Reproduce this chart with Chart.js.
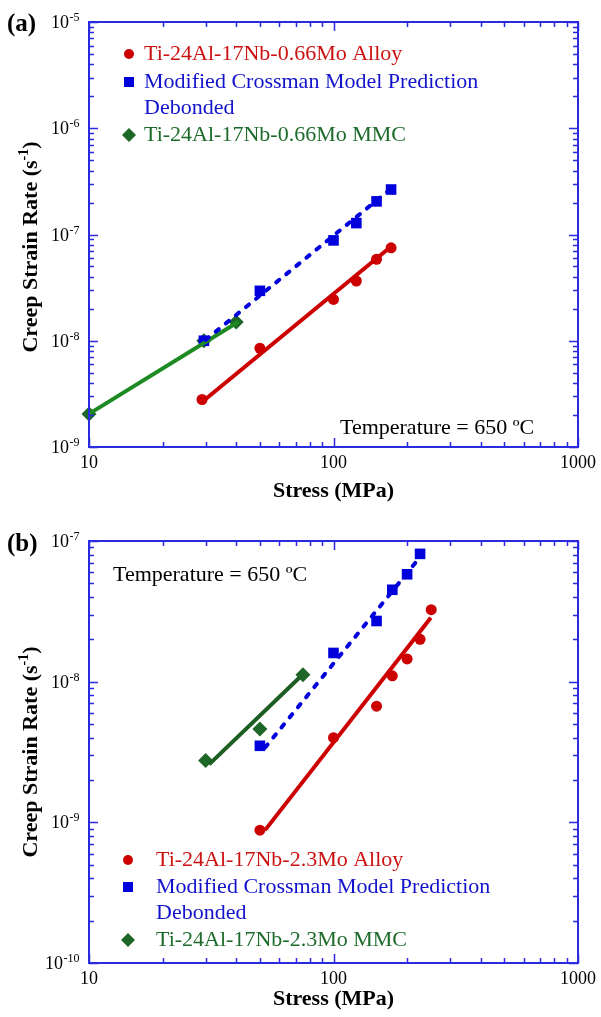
<!DOCTYPE html>
<html>
<head>
<meta charset="utf-8">
<script src="https://cdn.jsdelivr.net/npm/chart.js@4/dist/chart.umd.min.js"></script>
<style>
  html, body { margin: 0; padding: 0; background: #fff; }
  canvas { display: block; }
</style>
</head>
<body>
<canvas id="panelA" width="601" height="505"></canvas>
<canvas id="panelB" width="601" height="512"></canvas>
<script>
// ---- panel (a) data, 0.66Mo ----
const aAlloyStress = [29, 50, 100, 124, 150, 172];
const aAlloyRate = [2.8e-9, 8.5e-9, 2.45e-8, 3.65e-8, 5.85e-8, 7.5e-8];
const aModelStress = [29.5, 50, 100, 124, 150, 172];
const aModelRate = [1.0e-8, 2.95e-8, 8.8e-8, 1.28e-7, 2.05e-7, 2.65e-7];
const aMmcStress = [10, 29.5, 40];
const aMmcRate = [2.05e-9, 1.0e-8, 1.5e-8];
// fitted lines
const aAlloyFitStress = [29, 172];
const aAlloyFitRate = [2.65e-9, 7.7e-8];
const aModelFitStress = [30, 172];
const aModelFitRate = [1.02e-8, 2.7e-7];
const aMmcFitStress = [10, 41];
const aMmcFitRate = [2.05e-9, 1.52e-8];

// ---- panel (b) data, 2.3Mo ----
const bAlloyStress = [50, 100, 150, 174, 200, 226, 251];
const bAlloyRate = [8.8e-10, 4.0e-9, 6.7e-9, 1.1e-8, 1.45e-8, 2.0e-8, 3.25e-8];
const bModelStress = [50, 100, 150, 174, 200, 226];
const bModelRate = [3.5e-9, 1.6e-8, 2.7e-8, 4.5e-8, 5.8e-8, 8.1e-8];
const bMmcStress = [30, 50, 75];
const bMmcRate = [2.75e-9, 4.6e-9, 1.12e-8];
const bAlloyFitStress = [52.5, 250];
const bAlloyFitRate = [8.8e-10, 2.85e-8];
const bModelFitStress = [52.5, 222];
const bModelFitRate = [3.4e-9, 7.4e-8];
const bMmcFitStress = [31, 73];
const bMmcFitRate = [2.58e-9, 1.08e-8];

// axis ticks
const stressTicks = [10, 100, 1000];
const aRateTicks = [1e-9, 1e-8, 1e-7, 1e-6, 1e-5];
const bRateTicks = [1e-10, 1e-9, 1e-8, 1e-7];

const SERIF = "'Liberation Serif', 'Times New Roman', Times, serif";
const RED = '#cc0000';
const BLUE = '#0000dd';
const GREEN_PT = '#1d6627';
const AXIS_BLUE = '#2a2ade';

function zip(xs, ys) {
  return xs.map((x, i) => ({x: x, y: ys[i]}));
}

function decadeMarks(min, max) {
  const out = [];
  for (let e = Math.floor(Math.log10(min)); e <= Math.ceil(Math.log10(max)); e++) {
    for (let k = 1; k <= 9; k++) {
      const v = k * Math.pow(10, e);
      if (v >= min * 0.999 && v <= max * 1.001) out.push({v: v, major: k === 1});
    }
  }
  return out;
}

// frame with inward ticks on all four sides
const frameTicks = {
  id: 'frameTicks',
  afterDatasetsDraw(chart) {
    const {ctx, chartArea: a, scales: {x, y}} = chart;
    ctx.save();
    ctx.strokeStyle = AXIS_BLUE;
    ctx.lineWidth = 1.5;
    ctx.beginPath();
    decadeMarks(x.min, x.max).forEach(m => {
      const px = Math.round(x.getPixelForValue(m.v)) + 0.5;
      const len = m.major ? 9 : 5;
      ctx.moveTo(px, a.bottom); ctx.lineTo(px, a.bottom - len);
      ctx.moveTo(px, a.top); ctx.lineTo(px, a.top + len);
    });
    decadeMarks(y.min, y.max).forEach(m => {
      const py = Math.round(y.getPixelForValue(m.v)) + 0.5;
      const len = m.major ? 9 : 5;
      ctx.moveTo(a.left, py); ctx.lineTo(a.left + len, py);
      ctx.moveTo(a.right, py); ctx.lineTo(a.right - len, py);
    });
    ctx.stroke();
    ctx.lineWidth = 2;
    ctx.strokeRect(a.left, a.top, a.right - a.left, a.bottom - a.top);
    ctx.restore();
  }
};

// power-of-ten labels and y title with real superscripts
const powerLabels = {
  id: 'powerLabels',
  afterDraw(chart) {
    const {ctx, scales: {y}} = chart;
    ctx.save();
    ctx.fillStyle = '#000';
    ctx.textBaseline = 'alphabetic';
    ctx.textAlign = 'left';
    y.ticks.forEach(t => {
      const py = y.getPixelForValue(t.value);
      const exp = '-' + String(-Math.round(Math.log10(t.value)));
      ctx.font = '18px ' + SERIF;
      const w10 = ctx.measureText('10').width;
      ctx.font = '12px ' + SERIF;
      const we = ctx.measureText(exp).width;
      const x0 = 79 - w10 - we;
      ctx.font = '18px ' + SERIF;
      ctx.fillText('10', x0, py + 6);
      ctx.font = '12px ' + SERIF;
      ctx.fillText(exp, x0 + w10 + 0.5, py - 1);
    });
    // rotated axis title
    const main = 'Creep Strain Rate (s';
    const sup = '-1';
    const tail = ')';
    ctx.translate(29, 247);
    ctx.rotate(-Math.PI / 2);
    ctx.font = 'bold 22px ' + SERIF;
    const wm = ctx.measureText(main).width;
    const wt = ctx.measureText(tail).width;
    ctx.font = 'bold 14px ' + SERIF;
    const ws = ctx.measureText(sup).width;
    let cx = -(wm + ws + wt) / 2;
    ctx.font = 'bold 22px ' + SERIF;
    ctx.fillText(main, cx, 8);
    cx += wm;
    ctx.font = 'bold 14px ' + SERIF;
    ctx.fillText(sup, cx, -1);
    cx += ws;
    ctx.font = 'bold 22px ' + SERIF;
    ctx.fillText(tail, cx, 8);
    ctx.restore();
  }
};

function drawMarker(ctx, style, x, y, color) {
  ctx.fillStyle = color;
  ctx.beginPath();
  if (style === 'circle') {
    ctx.arc(x, y, 5, 0, Math.PI * 2);
  } else if (style === 'rect') {
    ctx.rect(x - 5, y - 5, 10, 10);
  } else {
    ctx.moveTo(x - 7, y); ctx.lineTo(x, y - 7); ctx.lineTo(x + 7, y); ctx.lineTo(x, y + 7);
    ctx.closePath();
  }
  ctx.fill();
}

// legend, panel letter and temperature note
function notesPlugin(n) {
  return {
    id: 'notes',
    afterDraw(chart) {
      const ctx = chart.ctx;
      ctx.save();
      ctx.textBaseline = 'middle';
      ctx.textAlign = 'left';
      ctx.fillStyle = '#000';
      ctx.font = 'bold 25px ' + SERIF;
      ctx.fillText(n.letter, 7, n.letterY);
      ctx.font = '22px ' + SERIF;
      ctx.fillText('Temperature = 650 \u00BAC', n.tempX, n.tempY);
      n.rows.forEach(r => {
        if (r.marker) drawMarker(ctx, r.marker, n.markX, r.y, r.mColor);
        ctx.fillStyle = r.color;
        ctx.fillText(r.text, n.textX, r.y);
      });
      ctx.restore();
    }
  };
}

function makeChart(id, d) {
  const canvasH = d.height;
  return new Chart(document.getElementById(id), {
    type: 'scatter',
    data: {
      datasets: [
        {label: d.alloyName, data: zip(d.alloyX, d.alloyY), pointStyle: 'circle', pointRadius: 5.5,
          backgroundColor: RED, borderColor: RED, borderWidth: 0, clip: false, order: 2},
        {label: 'Modified Crossman Model Prediction Debonded', data: zip(d.modelX, d.modelY), pointStyle: 'rect', pointRadius: 7.5,
          backgroundColor: BLUE, borderColor: BLUE, borderWidth: 0, clip: false, order: 2},
        {label: d.mmcName, data: zip(d.mmcX, d.mmcY), pointStyle: 'rectRot', pointRadius: 7.5,
          backgroundColor: GREEN_PT, borderColor: GREEN_PT, borderWidth: 0, clip: false, order: 2},
        {label: 'alloy fit', data: zip(d.alloyFitX, d.alloyFitY), showLine: true, pointRadius: 0,
          borderColor: RED, borderWidth: 4, clip: false, order: 1},
        {label: 'model fit', data: zip(d.modelFitX, d.modelFitY), showLine: true, pointRadius: 0,
          borderColor: BLUE, borderWidth: 4, borderDash: [4, 9], borderCapStyle: 'round', clip: false, order: 1},
        {label: 'mmc fit', data: zip(d.mmcFitX, d.mmcFitY), showLine: true, pointRadius: 0,
          borderColor: d.mmcLine, borderWidth: 4, clip: false, order: 1}
      ]
    },
    options: {
      responsive: false,
      animation: false,
      devicePixelRatio: 1,
      layout: {padding: {top: d.plotTop, right: 22, left: 0, bottom: 0}},
      plugins: {legend: {display: false}, tooltip: {enabled: false}},
      scales: {
        x: {
          type: 'logarithmic', min: 10, max: 1000,
          afterBuildTicks: s => { s.ticks = stressTicks.map(v => ({value: v})); },
          afterFit: s => { s.height = canvasH - d.plotBottom; },
          ticks: {callback: v => String(v), color: '#000', padding: 5, maxRotation: 0,
            font: {family: SERIF, size: 18}},
          grid: {display: false, drawTicks: false},
          border: {display: false},
          title: {display: true, text: 'Stress (MPa)', color: '#000',
            font: {family: SERIF, size: 22, weight: 'bold', lineHeight: 1.2},
            padding: {top: 0, bottom: d.xTitlePad}}
        },
        y: {
          type: 'logarithmic', min: d.rateTicks[0], max: d.rateTicks[d.rateTicks.length - 1],
          afterBuildTicks: s => { s.ticks = d.rateTicks.map(v => ({value: v})); },
          afterFit: s => { s.width = 89; },
          ticks: {display: false},
          grid: {display: false, drawTicks: false},
          border: {display: false},
          title: {display: false}
        }
      }
    },
    plugins: [frameTicks, powerLabels, notesPlugin(d.notes)]
  });
}

makeChart('panelA', {
  height: 505, plotTop: 22, plotBottom: 447, xTitlePad: 0, rateTicks: aRateTicks,
  alloyName: 'Ti-24Al-17Nb-0.66Mo Alloy', mmcName: 'Ti-24Al-17Nb-0.66Mo MMC', mmcLine: '#1e8a22',
  alloyX: aAlloyStress, alloyY: aAlloyRate, modelX: aModelStress, modelY: aModelRate,
  mmcX: aMmcStress, mmcY: aMmcRate,
  alloyFitX: aAlloyFitStress, alloyFitY: aAlloyFitRate, modelFitX: aModelFitStress, modelFitY: aModelFitRate,
  mmcFitX: aMmcFitStress, mmcFitY: aMmcFitRate,
  notes: {letter: '(a)', letterY: 25, tempX: 340, tempY: 428, markX: 129, textX: 144,
    rows: [
      {y: 54, marker: 'circle', mColor: RED, color: '#cc1111', text: 'Ti-24Al-17Nb-0.66Mo Alloy'},
      {y: 82, marker: 'rect', mColor: BLUE, color: '#1212cc', text: 'Modified Crossman Model Prediction'},
      {y: 108, color: '#1212cc', text: 'Debonded'},
      {y: 135, marker: 'diamond', mColor: GREEN_PT, color: '#1d6b2a', text: 'Ti-24Al-17Nb-0.66Mo MMC'}
    ]}
});

makeChart('panelB', {
  height: 512, plotTop: 36, plotBottom: 458, xTitlePad: 4, rateTicks: bRateTicks,
  alloyName: 'Ti-24Al-17Nb-2.3Mo Alloy', mmcName: 'Ti-24Al-17Nb-2.3Mo MMC', mmcLine: '#1d5e22',
  alloyX: bAlloyStress, alloyY: bAlloyRate, modelX: bModelStress, modelY: bModelRate,
  mmcX: bMmcStress, mmcY: bMmcRate,
  alloyFitX: bAlloyFitStress, alloyFitY: bAlloyFitRate, modelFitX: bModelFitStress, modelFitY: bModelFitRate,
  mmcFitX: bMmcFitStress, mmcFitY: bMmcFitRate,
  notes: {letter: '(b)', letterY: 40, tempX: 113, tempY: 70, markX: 128, textX: 156,
    rows: [
      {y: 355, marker: 'circle', mColor: RED, color: '#cc1111', text: 'Ti-24Al-17Nb-2.3Mo Alloy'},
      {y: 382, marker: 'rect', mColor: BLUE, color: '#1212cc', text: 'Modified Crossman Model Prediction'},
      {y: 408, color: '#1212cc', text: 'Debonded'},
      {y: 435, marker: 'diamond', mColor: GREEN_PT, color: '#1d6b2a', text: 'Ti-24Al-17Nb-2.3Mo MMC'}
    ]}
});
</script>
</body>
</html>
